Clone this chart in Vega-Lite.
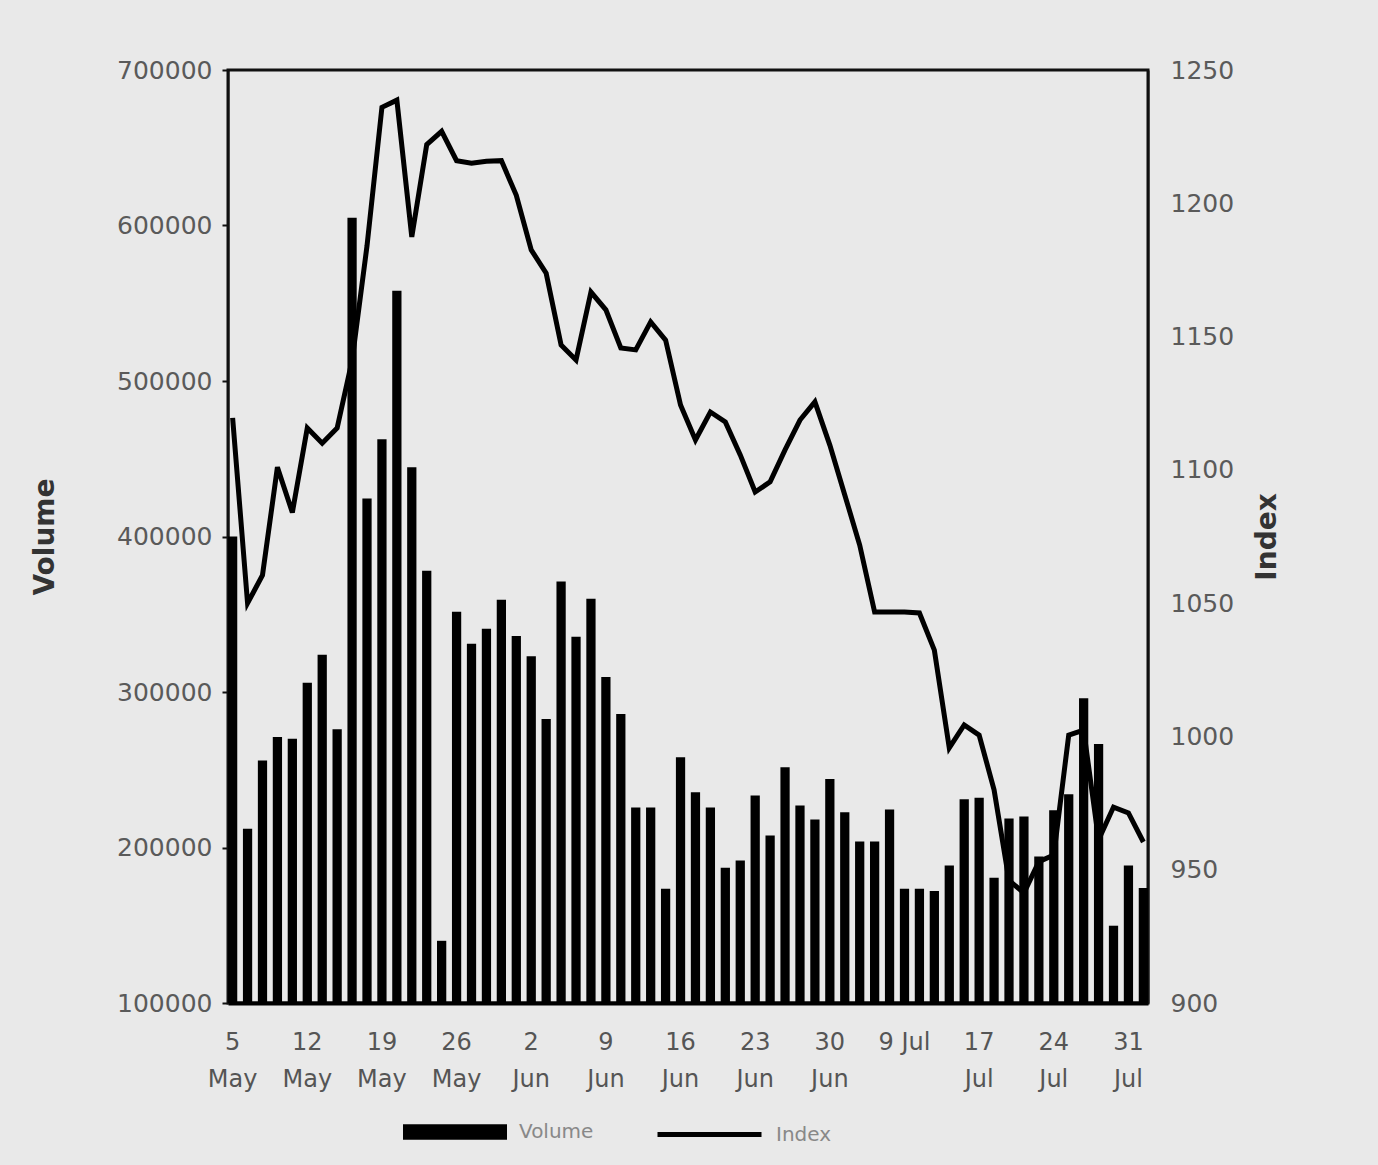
{
  "$schema": "https://vega.github.io/schema/vega-lite/v6.json",
  "width": 920,
  "height": 933,
  "autosize": {"type": "none"},
  "padding": {"left": 228, "top": 70, "right": 230, "bottom": 162},
  "background": "#e9e9e9",
  "config": {
    "view": {"stroke": "#111", "strokeWidth": 3, "fill": "#e9e9e9"},
    "font": "DejaVu Sans"
  },
  "data": {
    "values": [
      {"d": 1, "volume": 400000, "index": 1119.5},
      {"d": 2, "volume": 212000, "index": 1050},
      {"d": 3, "volume": 256000, "index": 1060.5},
      {"d": 4, "volume": 271000, "index": 1101},
      {"d": 5, "volume": 270000, "index": 1084},
      {"d": 6, "volume": 306000, "index": 1115.7},
      {"d": 7, "volume": 324000, "index": 1110},
      {"d": 8, "volume": 276000, "index": 1115.7},
      {"d": 9, "volume": 605000, "index": 1141},
      {"d": 10, "volume": 424500, "index": 1184},
      {"d": 11, "volume": 462600, "index": 1236},
      {"d": 12, "volume": 558000, "index": 1238.7},
      {"d": 13, "volume": 444500, "index": 1187.4},
      {"d": 14, "volume": 378000, "index": 1222},
      {"d": 15, "volume": 140000, "index": 1227},
      {"d": 16, "volume": 351600, "index": 1216},
      {"d": 17, "volume": 331000, "index": 1215},
      {"d": 18, "volume": 340600, "index": 1215.8},
      {"d": 19, "volume": 359400, "index": 1216},
      {"d": 20, "volume": 336000, "index": 1203},
      {"d": 21, "volume": 323000, "index": 1182.5},
      {"d": 22, "volume": 282600, "index": 1173.8},
      {"d": 23, "volume": 371000, "index": 1146.8},
      {"d": 24, "volume": 335500, "index": 1141.2},
      {"d": 25, "volume": 360000, "index": 1166.7},
      {"d": 26, "volume": 309700, "index": 1160},
      {"d": 27, "volume": 285800, "index": 1145.7},
      {"d": 28, "volume": 225800, "index": 1145},
      {"d": 29, "volume": 225800, "index": 1155.5},
      {"d": 30, "volume": 173500, "index": 1148.7},
      {"d": 31, "volume": 258000, "index": 1124.3},
      {"d": 32, "volume": 235500, "index": 1111.2},
      {"d": 33, "volume": 225800, "index": 1121.7},
      {"d": 34, "volume": 187000, "index": 1118},
      {"d": 35, "volume": 191600, "index": 1105.6},
      {"d": 36, "volume": 233500, "index": 1091.7},
      {"d": 37, "volume": 207700, "index": 1095.5},
      {"d": 38, "volume": 251600, "index": 1107.5},
      {"d": 39, "volume": 227000, "index": 1118.7},
      {"d": 40, "volume": 218000, "index": 1125.5},
      {"d": 41, "volume": 244000, "index": 1109.3},
      {"d": 42, "volume": 222600, "index": 1090.6},
      {"d": 43, "volume": 203900, "index": 1071.8},
      {"d": 44, "volume": 203900, "index": 1046.7},
      {"d": 45, "volume": 224500, "index": 1046.7},
      {"d": 46, "volume": 173500, "index": 1046.7},
      {"d": 47, "volume": 173500, "index": 1046.3},
      {"d": 48, "volume": 172000, "index": 1032.4},
      {"d": 49, "volume": 188400, "index": 995.7},
      {"d": 50, "volume": 231000, "index": 1004.3},
      {"d": 51, "volume": 232000, "index": 1000.5},
      {"d": 52, "volume": 180600, "index": 980},
      {"d": 53, "volume": 218700, "index": 946},
      {"d": 54, "volume": 220000, "index": 941.3},
      {"d": 55, "volume": 194200, "index": 953},
      {"d": 56, "volume": 223900, "index": 955.5},
      {"d": 57, "volume": 234200, "index": 1000.5},
      {"d": 58, "volume": 296000, "index": 1002.4},
      {"d": 59, "volume": 266500, "index": 961.2},
      {"d": 60, "volume": 149700, "index": 973.5},
      {"d": 61, "volume": 188400, "index": 971.3},
      {"d": 62, "volume": 174000, "index": 960.4}
    ]
  },
  "encoding": {
    "x": {
      "field": "d",
      "type": "ordinal",
      "scale": {"paddingInner": 0.38, "paddingOuter": 0},
      "axis": {
        "title": null,
        "values": [1, 6, 11, 16, 21, 26, 31, 36, 41, 46, 51, 56, 61],
        "labelExpr": "split(['5|May','12|May','19|May','26|May','2|Jun','9|Jun','16|Jun','23|Jun','30|Jun','9 Jul','17|Jul','24|Jul','31|Jul'][(datum.value-1)/5], '|')",
        "labelAngle": 0,
        "ticks": false,
        "domain": true,
        "domainColor": "#000",
        "domainWidth": 4,
        "labelFontSize": 24,
        "labelLineHeight": 37,
        "labelPadding": 27,
        "labelColor": "#555"
      }
    }
  },
  "layer": [
    {
      "mark": {"type": "bar", "color": "#000"},
      "encoding": {
        "y": {
          "field": "volume",
          "type": "quantitative",
          "scale": {"domain": [100000, 700000], "zero": false, "nice": false},
          "axis": {
            "title": "Volume",
            "values": [100000, 200000, 300000, 400000, 500000, 600000, 700000],
            "format": "d",
            "grid": false,
            "domainColor": "#111",
            "domainWidth": 2,
            "tickSize": 6,
            "tickColor": "#111",
            "tickWidth": 2,
            "labelFontSize": 25,
            "labelColor": "#5a5a5a",
            "labelPadding": 10,
            "titleFontSize": 28,
            "titleFontWeight": "bold",
            "titleColor": "#333",
            "titlePadding": 57
          }
        },
        "y2": {"datum": 100000},
        "fill": {
          "datum": "Volume",
          "type": "nominal",
          "scale": {"range": ["#000"]},
          "legend": {
            "title": null,
            "orient": "none",
            "legendX": 175,
            "legendY": 1010,
            "padding": 0,
            "symbolType": "M-1,-0.15L1,-0.15L1,0.15L-1,0.15Z",
            "symbolSize": 10816,
            "symbolStrokeWidth": 0,
            "labelFontSize": 20,
            "labelColor": "#888",
            "labelOffset": 12
          }
        }
      }
    },
    {
      "mark": {"type": "line", "color": "#000", "strokeWidth": 5},
      "encoding": {
        "y": {
          "field": "index",
          "type": "quantitative",
          "scale": {"domain": [900, 1250], "zero": false, "nice": false},
          "axis": {
            "orient": "right",
            "title": "Index",
            "values": [900, 950, 1000, 1050, 1100, 1150, 1200, 1250],
            "format": "d",
            "grid": false,
            "domainColor": "#111",
            "domainWidth": 2,
            "ticks": false,
            "labelFontSize": 25,
            "labelColor": "#5a5a5a",
            "labelPadding": 22,
            "titleFontSize": 28,
            "titleFontWeight": "bold",
            "titleColor": "#333",
            "titleAngle": -90,
            "titlePadding": 48
          }
        },
        "stroke": {
          "datum": "Index",
          "type": "nominal",
          "scale": {"range": ["#000"]},
          "legend": {
            "title": null,
            "orient": "none",
            "legendX": 427,
            "legendY": 1010,
            "padding": 0,
            "symbolType": "M-1,0L1,0",
            "symbolSize": 10816,
            "symbolStrokeWidth": 5,
            "labelFontSize": 20,
            "labelColor": "#888",
            "labelOffset": 12
          }
        }
      }
    }
  ],
  "resolve": {"scale": {"y": "independent"}}
}
